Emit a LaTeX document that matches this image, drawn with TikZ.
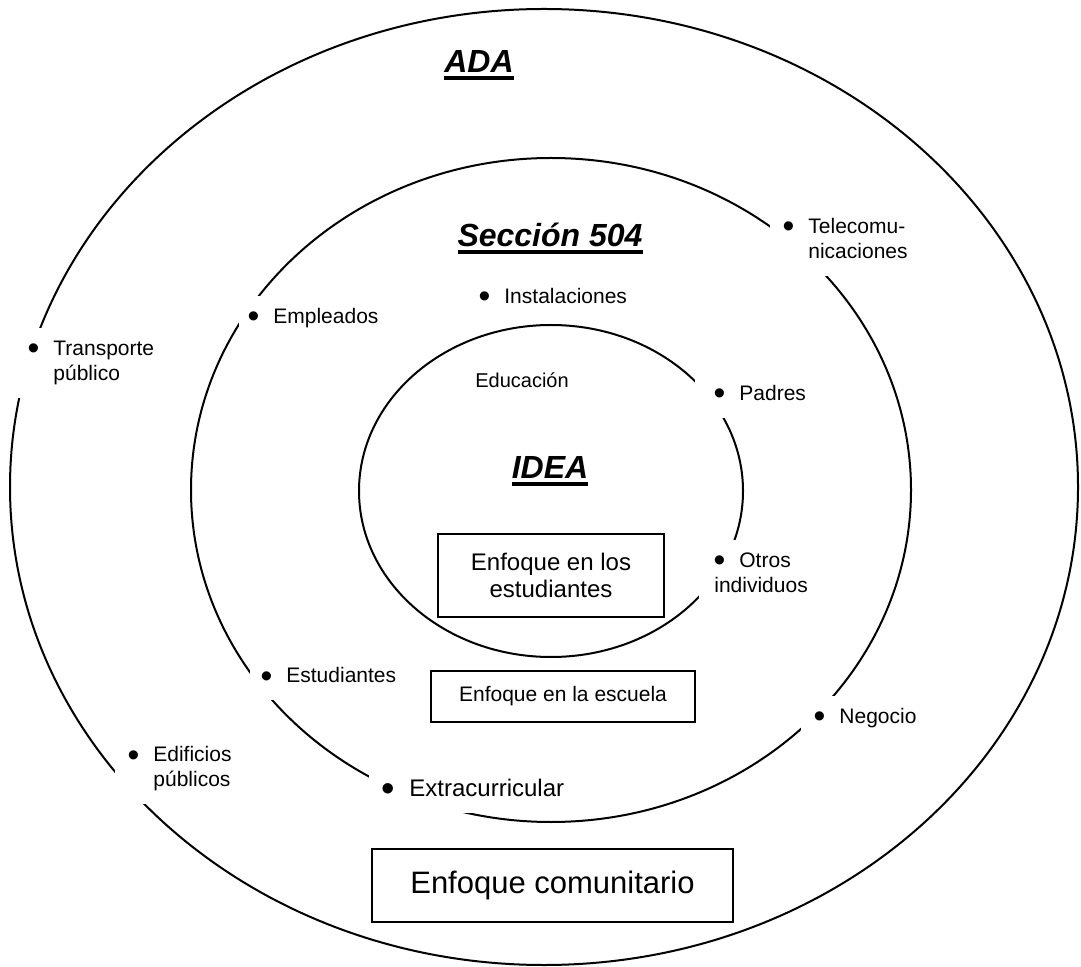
\documentclass[tikz,border=0pt]{standalone}
\usepackage{fontspec}
\setmainfont{Liberation Sans}
\newcommand\myul[1]{\setbox0=\hbox{#1}\rlap{\rule[-3.5pt]{\wd0}{1.8pt}}\box0}
\newcommand\bigbul{\raisebox{-2.3pt}{\scalebox{1.6}{\textbullet}}}
\newcommand\bulitem{\makebox[8pt][c]{\bigbul}\hspace{6pt}}
\begin{document}
\begin{tikzpicture}[x=0.5pt,y=-0.5pt,
  ring/.style={line width=1pt},
  item/.style={anchor=north west, fill=white, inner xsep=5pt, inner ysep=5pt, align=left, font=\fontsize{10.5}{12.5}\selectfont},
  title/.style={anchor=base, font=\fontsize{16}{19}\selectfont\bfseries\itshape, inner sep=0pt},
  focus/.style={draw, line width=0.9pt, fill=white, align=center, inner sep=0pt}]
\useasboundingbox (0,0) rectangle (1081,967);
% rings
\draw[ring] (544,487) ellipse [x radius=267pt, y radius=239pt];
\draw[ring] (551,490) ellipse [x radius=180pt, y radius=166pt];
\draw[ring] (551,491) ellipse [x radius=96pt, y radius=83pt];
% titles
\node[title] (ada) at (479,73) {\myul{ADA}};
\node[title] (sec) at (550,247) {\myul{Sección 504}};
\node[title] (idea) at (550,479) {\myul{IDEA}};
\node[anchor=base, font=\fontsize{10}{12}\selectfont, inner sep=0pt] (edu) at (522,388) {Educación};
% bullet items
\node[item] (inst) at (466,275.5) {\strut\bulitem Instalaciones};
\node[item, inner xsep=3pt] (empl) at (239,295.5) {\strut\bulitem Empleados};
\node[item] (trans) at (15,327.5) {\strut\bulitem Transporte\\\strut\hspace*{14pt}público};
\node[item] (tele) at (770,205.5) {\strut\bulitem Telecomu-\\\strut\hspace*{14pt}nicaciones};
\node[item, inner xsep=8pt] (padres) at (695,372.5) {\strut\bulitem Padres};
\node[item, inner xsep=6pt] (otros) at (699,539.5) {\strut\bulitem Otros\\\strut\hspace*{1.5pt}individuos};
\node[item, inner xsep=4pt] (estud) at (250,654.5) {\strut\bulitem Estudiantes};
\node[item, inner ysep=4pt, font=\fontsize{12}{14}\selectfont] (extra) at (369,768.4) {\strut\makebox[9pt][c]{\bigbul}\hspace{6pt}Extracurricular};
\node[item] (nego) at (801,695.5) {\strut\bulitem Negocio};
\node[item] (edif) at (115,733.5) {\strut\bulitem Edificios\\\strut\hspace*{14pt}públicos};
% focus boxes
\node[focus, minimum width=113pt, minimum height=41.5pt, font=\fontsize{12}{13.5}\selectfont] (fest) at (551,575.5) {Enfoque en los\\estudiantes};
\node[focus, minimum width=132pt, minimum height=25.5pt, font=\fontsize{10.5}{12.5}\selectfont] (fesc) at (563,696.5) {Enfoque en la escuela};
\node[focus, minimum width=180.5pt, minimum height=36.5pt, font=\fontsize{15.5}{18}\selectfont] (fcom) at (552.5,885.5) {Enfoque comunitario};
\end{tikzpicture}
\end{document}
